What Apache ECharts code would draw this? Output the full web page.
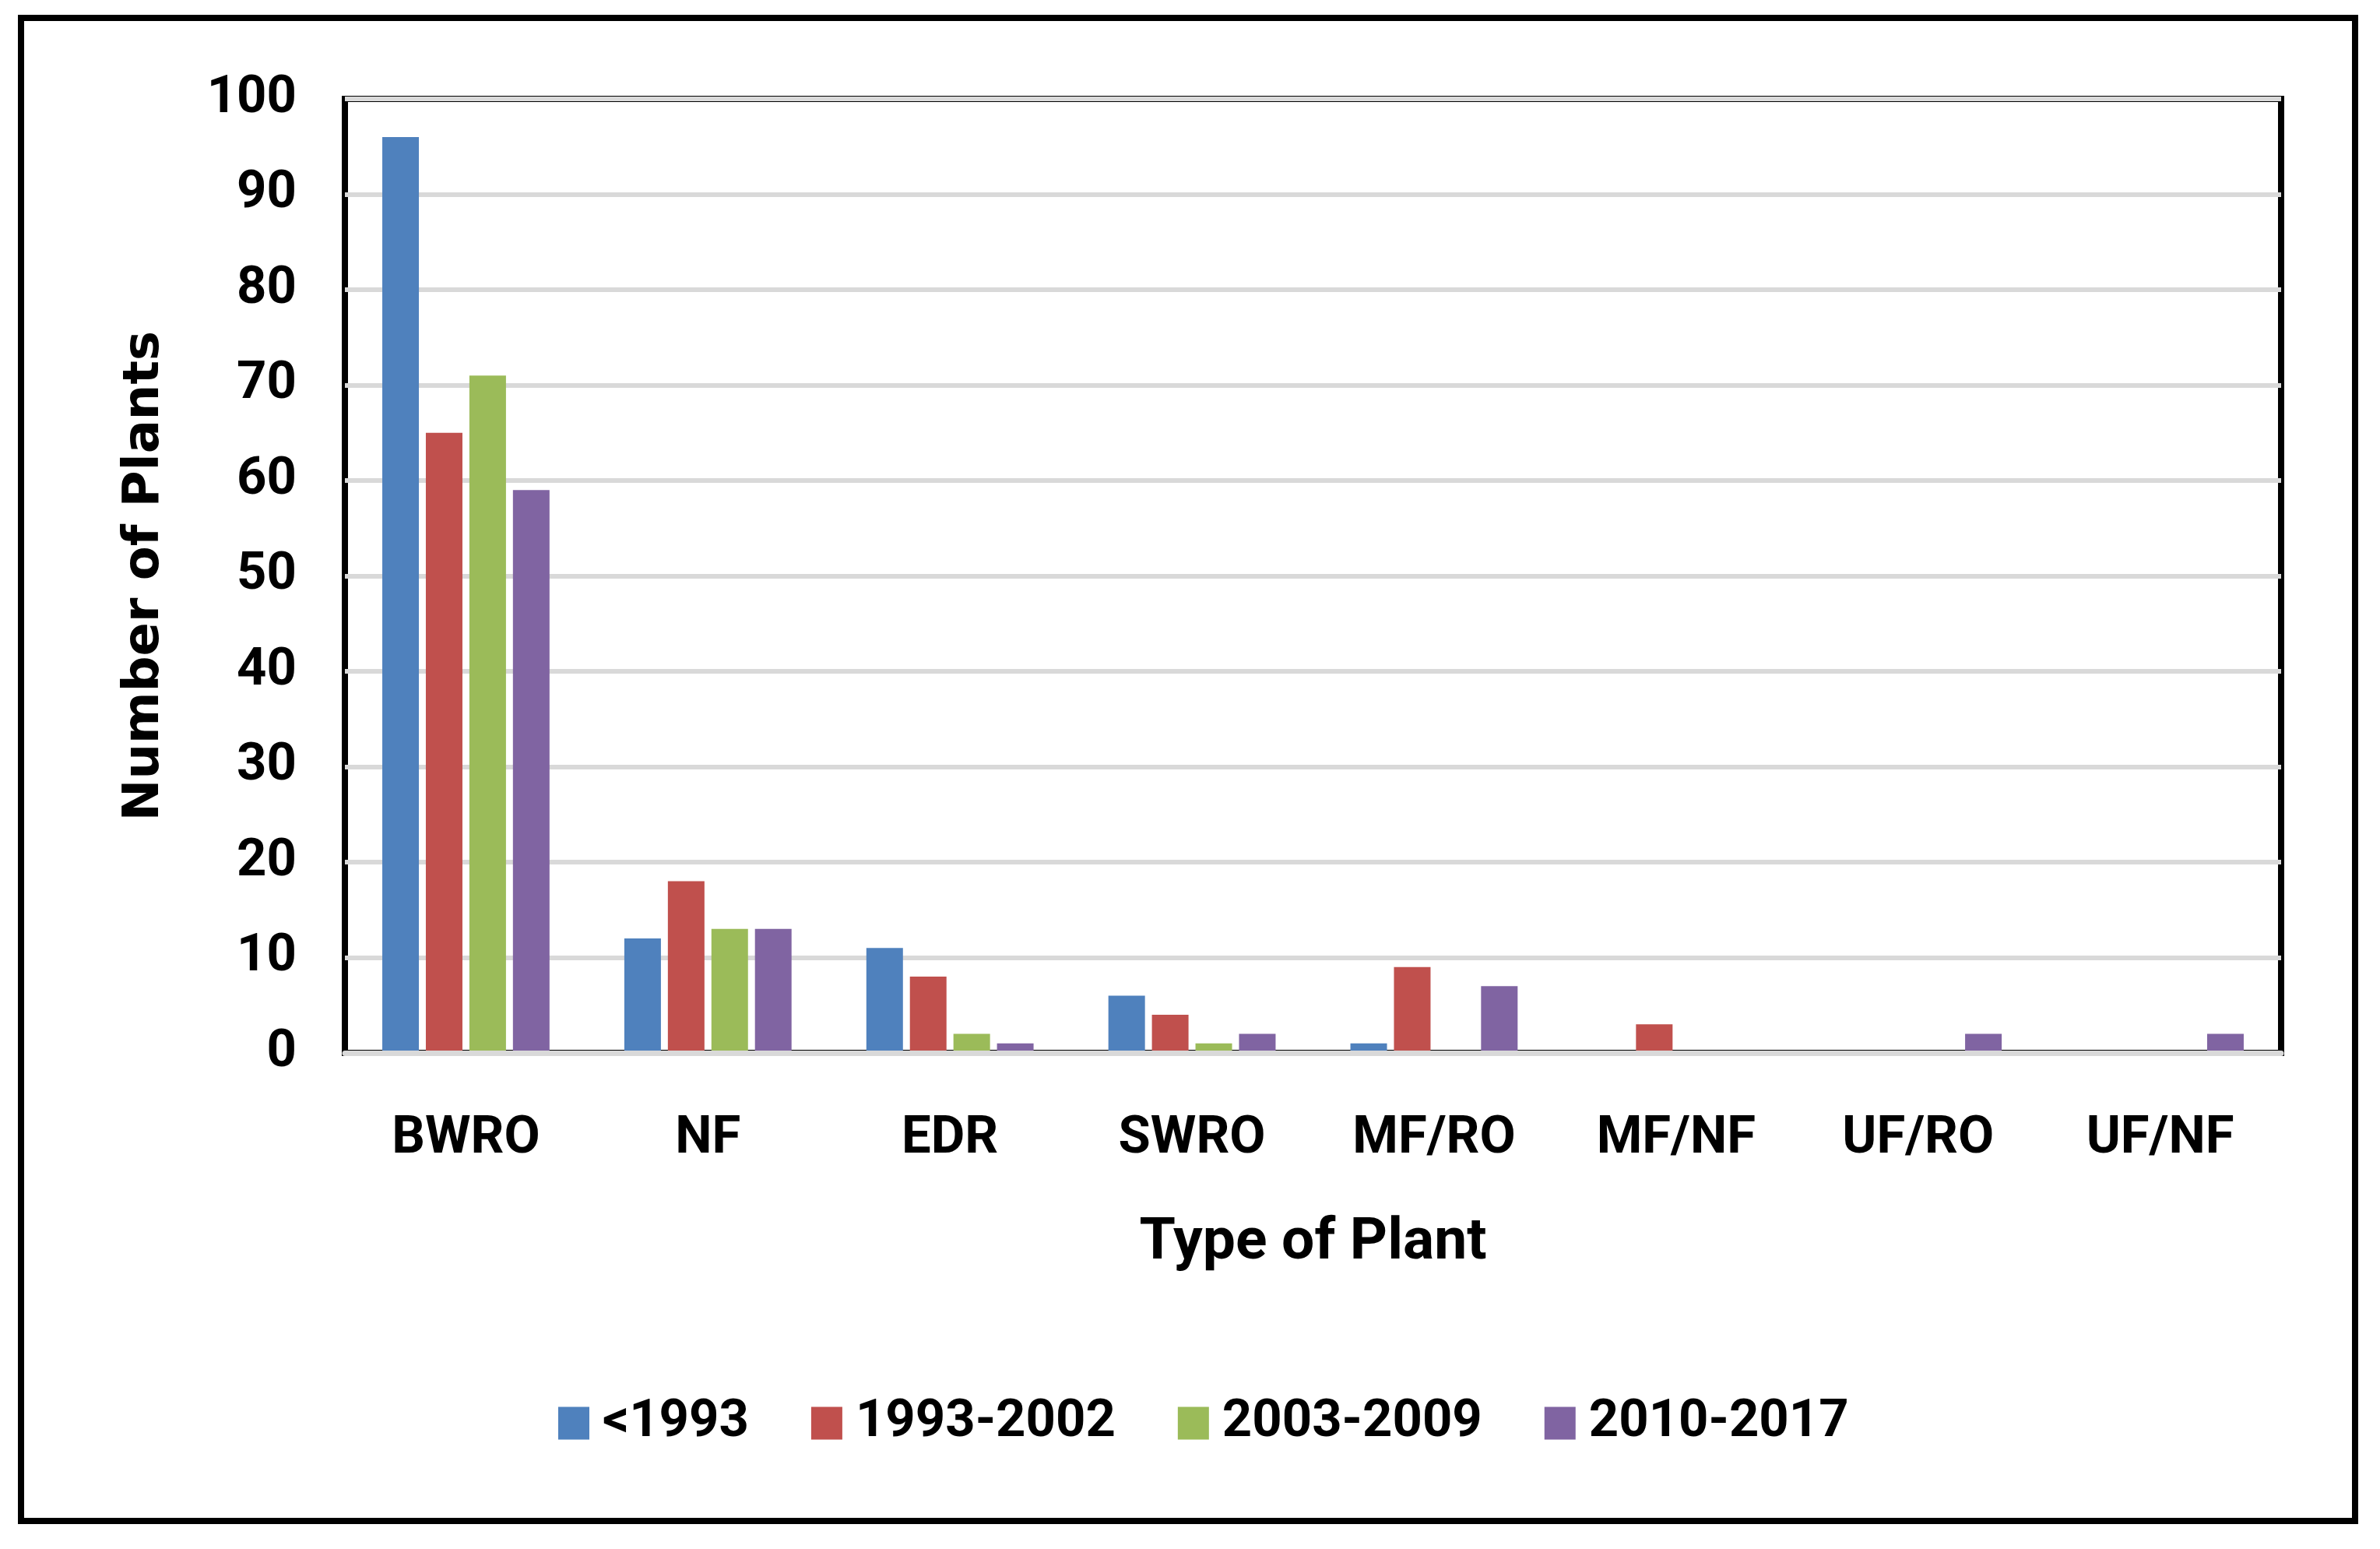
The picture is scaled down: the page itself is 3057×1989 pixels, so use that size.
<!DOCTYPE html>
<html>
<head>
<meta charset="utf-8">
<script src="https://cdn.jsdelivr.net/npm/echarts@6/dist/echarts.min.js"></script>
<style>
html,body{margin:0;padding:0;background:#fff;}
#chart{width:3057px;height:1989px;}
</style>
</head>
<body>
<div id="chart"></div>
<script>
const categories = ['BWRO', 'NF', 'EDR', 'SWRO', 'MF/RO', 'MF/NF', 'UF/RO', 'UF/NF'];
const seriesNames = ['<1993', '1993-2002', '2003-2009', '2010-2017'];
const before1993 = [96, 12, 11, 6, 1, 0, 0, 0];
const y1993to2002 = [65, 18, 8, 4, 9, 3, 0, 0];
const y2003to2009 = [71, 13, 2, 1, 0, 0, 0, 0];
const y2010to2017 = [59, 13, 1, 2, 7, 0, 2, 2];
const yTicks = [0, 10, 20, 30, 40, 50, 60, 70, 80, 90, 100];

const colors = ['#4F81BD', '#C0504D', '#9BBB59', '#8064A2'];
const seriesData = [before1993, y1993to2002, y2003to2009, y2010to2017];
const labelFont = "Roboto, sans-serif";

const chart = echarts.init(document.getElementById('chart'));
chart.setOption({
  backgroundColor: '#ffffff',
  animation: false,
  color: colors,
  graphic: [{
    type: 'rect',
    shape: {x: 27, y: 23, width: 2998, height: 1930},
    style: {fill: 'none', stroke: '#000', lineWidth: 8},
    z: 100
  }],
  grid: {
    left: 443, right: 127, top: 127, bottom: 637,
    show: true, borderColor: '#000', borderWidth: 8, backgroundColor: 'transparent'
  },
  legend: {
    data: seriesNames,
    left: 712, top: 1789,
    icon: 'rect', itemWidth: 40, itemHeight: 42, itemGap: 80,
    textStyle: {fontFamily: labelFont, fontWeight: 'bold', fontSize: 67, lineHeight: 42, color: '#000', padding: [0, 0, 0, 12]}
  },
  xAxis: {
    type: 'category',
    data: categories,
    name: 'Type of Plant',
    nameLocation: 'middle',
    nameGap: 208,
    nameTextStyle: {fontFamily: labelFont, fontWeight: 'bold', fontSize: 75, color: '#000'},
    axisLine: {show: true, lineStyle: {color: '#D9D9D9', width: 7}},
    axisTick: {show: false},
    axisLabel: {margin: 78, fontFamily: labelFont, fontWeight: 'bold', fontSize: 67, color: '#000'},
    splitLine: {show: false},
    z: 10
  },
  yAxis: {
    type: 'value',
    min: yTicks[0], max: yTicks[yTicks.length - 1], interval: 10,
    name: 'Number of Plants',
    nameLocation: 'middle',
    nameRotate: 90,
    nameGap: 225,
    nameTextStyle: {fontFamily: "'DejaVu Sans', Verdana, sans-serif", fontWeight: 'bold', fontSize: 64, color: '#000'},
    axisLine: {show: false},
    axisTick: {show: false},
    axisLabel: {margin: 62, fontFamily: labelFont, fontWeight: 'bold', fontSize: 67, color: '#000'},
    splitLine: {show: true, lineStyle: {color: '#D9D9D9', width: 6}}
  },
  series: seriesNames.map((name, i) => ({
    name: name,
    type: 'bar',
    data: seriesData[i],
    barWidth: 47,
    barGap: '19%',
    itemStyle: {color: colors[i]}
  }))
});
</script>
</body>
</html>
